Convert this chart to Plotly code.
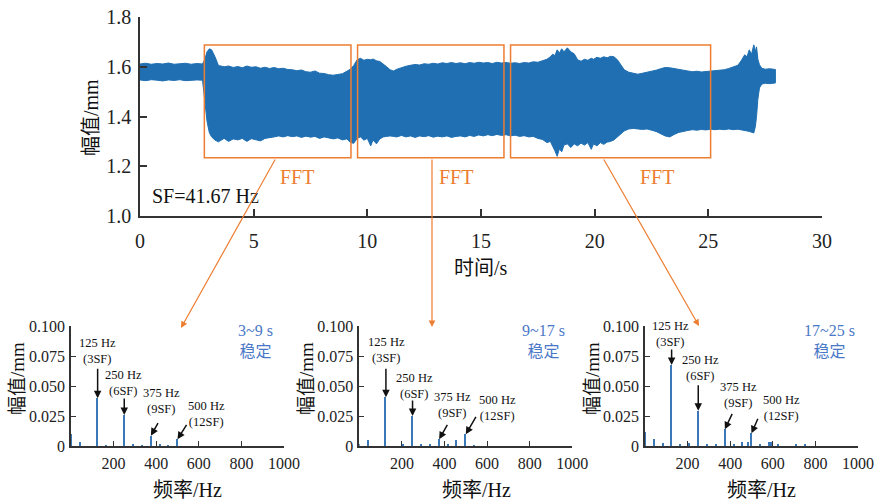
import plotly.graph_objects as go

W, H = 886, 502
SERIF = "Liberation Serif, Noto Sans CJK SC, serif"

# ---------------- time-domain envelope (upper / lower edge) ----------------
t_env = [0.0, 0.25, 0.5, 0.75, 1.0, 1.25, 1.5, 1.75, 2.0, 2.25, 2.5, 2.75,
         2.85, 2.95, 3.05, 3.15, 3.3, 3.45, 3.7, 3.9, 4.1, 4.3, 4.5, 4.7, 4.9, 5.1, 5.3, 5.5,
         5.7, 5.9, 6.1, 6.3, 6.5, 6.7, 6.9, 7.1, 7.3, 7.5, 7.7, 7.9, 8.1, 8.3, 8.5, 8.7, 8.9,
         9.1, 9.25, 9.4,
         9.55, 9.7, 9.85, 10.0, 10.15, 10.25, 10.4, 10.55, 10.7, 10.85, 11.0, 11.15, 11.3,
         11.5, 11.7, 11.9, 12.1, 12.3, 12.5, 12.7, 12.9, 13.1, 13.3, 13.5, 13.7, 13.9, 14.1,
         14.3, 14.5, 14.7, 14.9, 15.1, 15.3, 15.5, 15.7, 15.9, 16.1, 16.3, 16.5, 16.7, 16.9,
         17.1, 17.3, 17.5,
         17.7, 17.9, 18.05, 18.15, 18.25, 18.35, 18.45, 18.55, 18.65, 18.8, 18.95, 19.1,
         19.25, 19.4, 19.55, 19.7, 19.85, 19.95, 20.1, 20.25, 20.4, 20.55, 20.7, 20.85, 21.0,
         21.15, 21.3, 21.5, 21.7, 21.9, 22.1, 22.3, 22.5, 22.7, 22.9, 23.1, 23.3, 23.5, 23.7,
         23.9, 24.1, 24.3, 24.5, 24.7, 24.9, 25.1, 25.3, 25.5, 25.7, 25.9, 26.1, 26.3, 26.45,
         26.6, 26.7, 26.8, 26.9, 27.0, 27.07, 27.12, 27.18, 27.25, 27.35, 27.5, 27.7, 27.95]
upper_env = [1.611, 1.614, 1.610, 1.613, 1.611, 1.615, 1.610, 1.612, 1.614, 1.610, 1.613, 1.611,
             1.630, 1.660, 1.672, 1.668, 1.640, 1.605, 1.600, 1.603, 1.597, 1.601, 1.596, 1.603,
             1.598, 1.600, 1.594, 1.598, 1.593, 1.597, 1.592, 1.594, 1.589, 1.588, 1.584, 1.587,
             1.580, 1.578, 1.583, 1.574, 1.573, 1.568, 1.566, 1.569, 1.572, 1.582, 1.590, 1.605,
             1.628, 1.634, 1.626, 1.630, 1.628, 1.631, 1.624, 1.621, 1.612, 1.600, 1.588, 1.583,
             1.590, 1.597, 1.602, 1.606, 1.609, 1.607, 1.612, 1.610, 1.614, 1.611, 1.616, 1.613,
             1.617, 1.613, 1.616, 1.612, 1.617, 1.614, 1.618, 1.615, 1.617, 1.613, 1.618, 1.615,
             1.617, 1.614, 1.616, 1.613, 1.617, 1.615, 1.620, 1.618,
             1.624, 1.630, 1.640, 1.650, 1.645, 1.668, 1.655, 1.672, 1.660, 1.676, 1.660, 1.652,
             1.628, 1.622, 1.630, 1.626, 1.634, 1.630, 1.638, 1.634, 1.640, 1.636, 1.642, 1.640,
             1.628, 1.608, 1.588, 1.578, 1.574, 1.570, 1.574, 1.577, 1.581, 1.586, 1.592, 1.597,
             1.596, 1.592, 1.589, 1.586, 1.583, 1.580, 1.582, 1.579, 1.581, 1.580, 1.583, 1.586,
             1.588, 1.593, 1.598, 1.606, 1.625, 1.648, 1.640, 1.668, 1.650, 1.688, 1.662, 1.680,
             1.630, 1.608, 1.594, 1.590, 1.592, 1.589]
lower_env = [1.547, 1.544, 1.548, 1.546, 1.543, 1.547, 1.545, 1.548, 1.544, 1.546, 1.547, 1.546,
             1.470, 1.380, 1.335, 1.318, 1.305, 1.298, 1.312, 1.300, 1.310, 1.306, 1.312, 1.300,
             1.311, 1.308, 1.302, 1.312, 1.315, 1.318, 1.322, 1.318, 1.323, 1.319, 1.322, 1.316,
             1.321, 1.317, 1.320, 1.312, 1.318, 1.314, 1.310, 1.314, 1.306, 1.310, 1.296, 1.292,
             1.312, 1.318, 1.305, 1.312, 1.282, 1.306, 1.290, 1.310, 1.318, 1.320, 1.322, 1.320,
             1.318, 1.324, 1.318, 1.322, 1.316, 1.322, 1.319, 1.323, 1.317, 1.321, 1.318, 1.322,
             1.316, 1.320, 1.322, 1.318, 1.324, 1.320, 1.326, 1.322, 1.327, 1.323, 1.328, 1.324,
             1.327, 1.322, 1.325, 1.320, 1.323, 1.318, 1.320, 1.312,
             1.308, 1.295, 1.300, 1.278, 1.262, 1.240, 1.270, 1.258, 1.285, 1.290, 1.275, 1.290,
             1.282, 1.293, 1.285, 1.295, 1.268, 1.290, 1.282, 1.295, 1.288, 1.297, 1.300, 1.306,
             1.318, 1.330, 1.342, 1.350, 1.352, 1.350, 1.348, 1.350, 1.345, 1.340, 1.332, 1.322,
             1.318, 1.328, 1.336, 1.340, 1.344, 1.347, 1.345, 1.348, 1.346, 1.349, 1.347, 1.349,
             1.347, 1.350, 1.347, 1.349, 1.346, 1.344, 1.342, 1.340, 1.338, 1.334, 1.360, 1.400,
             1.470, 1.515, 1.530, 1.534, 1.532, 1.535]

# FFT windows (time ranges of boxes) and amplitude range of boxes
box_t0 = [2.83, 9.57, 16.30]
box_t1 = [9.28, 16.01, 25.10]
box_a0, box_a1 = 1.2345, 1.6874
box_labels = ["FFT", "FFT", "FFT"]
box_label_t = [6.89, 13.9, 22.74]

# ---------------- spectra ----------------
fft1_f = [0, 41.7, 125, 166.7, 250, 291.7, 333.3, 375, 416.7, 458.3, 500]
fft1_a = [0.010, 0.0036, 0.0397, 0.0008, 0.0258, 0.0010, 0.0008, 0.0086, 0.0018, 0.0008, 0.0056]
fft2_f = [0, 41.7, 125, 208.3, 250, 291.7, 333.3, 375, 416.7, 458.3, 500, 541.7]
fft2_a = [0.0015, 0.005, 0.0406, 0.001, 0.025, 0.001, 0.001, 0.0056, 0.0015, 0.005, 0.0097, 0.0008]
fft3_f = [0, 41.7, 83.3, 125, 166.7, 208.3, 250, 291.7, 333.3, 375, 416.7, 458.3, 483, 500,
          541.7, 583.3, 591, 625, 708.3, 750]
fft3_a = [0.0114, 0.0058, 0.0022, 0.0675, 0.001, 0.0028, 0.0294, 0.001, 0.001, 0.0139, 0.0015,
          0.0036, 0.0036, 0.0106, 0.0015, 0.0036, 0.0030, 0.002, 0.001, 0.001]
periods = ["3~9 s", "9~17 s", "17~25 s"]
state = "稳定"
peak_f = [125, 250, 375, 500]
peak_text = ["125 Hz<br>(3SF)", "250 Hz<br>(6SF)", "375 Hz<br>(9SF)", "500 Hz<br>(12SF)"]
peak_amp = [[0.0397, 0.0258, 0.0086, 0.0056],
            [0.0406, 0.025, 0.0056, 0.0097],
            [0.0675, 0.0294, 0.0139, 0.0106]]

main_xticks = [0, 5, 10, 15, 20, 25, 30]
main_yticks = [1.0, 1.2, 1.4, 1.6, 1.8]
sub_xticks = [200, 400, 600, 800, 1000]
sub_yticks = [0, 0.025, 0.05, 0.075, 0.1]
sub_yticktext = ["0", "0.025", "0.050", "0.075", "0.100"]

SIG = "#1f6fb2"
ORANGE = "#ed7d31"
BAR = "#3a78b8"
BLUE_TXT = "#4a78c8"
AX = "#333333"

fig = go.Figure()

# envelope polygon (upper edge forward, lower edge backward)
fig.add_trace(go.Scatter(x=t_env + t_env[::-1], y=upper_env + lower_env[::-1],
                         fill="toself", fillcolor=SIG, mode="lines",
                         line=dict(color=SIG, width=1), xaxis="x", yaxis="y",
                         hoverinfo="skip", showlegend=False))

for i, (f, a) in enumerate([(fft1_f, fft1_a), (fft2_f, fft2_a), (fft3_f, fft3_a)]):
    fig.add_trace(go.Bar(x=f, y=a, width=7, marker=dict(color=BAR, line=dict(width=0)),
                         xaxis=f"x{i+2}", yaxis=f"y{i+2}", showlegend=False))

px = lambda v: v / W
py = lambda v: 1 - v / H

tickfont_main = dict(family=SERIF, size=20, color="#222")
tickfont_sub = dict(family=SERIF, size=16, color="#222")

layout = dict(
    width=W, height=H, margin=dict(l=0, r=0, t=0, b=0, pad=0, autoexpand=False),
    paper_bgcolor="white", plot_bgcolor="white", showlegend=False, bargap=0,
    xaxis=dict(domain=[px(140), px(822)], range=[0, 30], tickvals=main_xticks,
               ticks="inside", ticklen=7, tickwidth=1.5, tickcolor=AX, showline=True,
               linecolor=AX, linewidth=1.5, showgrid=False, zeroline=False,
               tickfont=tickfont_main, anchor="y", ticklabelstandoff=6, automargin=False),
    yaxis=dict(domain=[py(216), py(17)], range=[1.0, 1.8], tickvals=main_yticks,
               tickformat=".1f", ticks="inside", ticklen=7, tickwidth=1.5, tickcolor=AX,
               showline=True, linecolor=AX, linewidth=1.5, showgrid=False, zeroline=False,
               tickfont=tickfont_main, anchor="x", ticklabelstandoff=3, automargin=False),
)
sub_x0 = [71, 359.3, 645]
for i in range(3):
    layout[f"xaxis{i+2}"] = dict(domain=[px(sub_x0[i]), px(sub_x0[i] + 213)], range=[0, 1000],
                                 tickvals=sub_xticks, ticks="inside", ticklen=5, tickwidth=1.2,
                                 tickcolor=AX, showline=True, linecolor=AX, linewidth=1.5,
                                 showgrid=False, zeroline=False, tickfont=tickfont_sub,
                                 anchor=f"y{i+2}", ticklabelstandoff=2, automargin=False)
    layout[f"yaxis{i+2}"] = dict(domain=[py(446), py(326)], range=[0, 0.1],
                                 tickvals=sub_yticks, ticktext=sub_yticktext, ticks="inside",
                                 ticklen=5, tickwidth=1.2, tickcolor=AX, showline=True,
                                 linecolor=AX, linewidth=1.5, showgrid=False, zeroline=False,
                                 tickfont=tickfont_sub, anchor=f"x{i+2}", ticklabelstandoff=1,
                                 automargin=False)
fig.update_layout(**layout)

C = dict(xanchor="center", yanchor="middle")
shapes = []
ann = []
for i in range(3):
    shapes.append(dict(type="rect", xref="x", yref="y", x0=box_t0[i], x1=box_t1[i],
                       y0=box_a0, y1=box_a1, line=dict(color=ORANGE, width=1.5)))
    ann.append(dict(xref="x", yref="y", x=box_label_t[i], y=1.158, text=box_labels[i],
                    showarrow=False, font=dict(family=SERIF, size=20, color=ORANGE), **C))
fig.update_layout(shapes=shapes)

ann.append(dict(xref="x", yref="y", x=0.44, y=1.08, text="SF=41.67 Hz", showarrow=False,
                xanchor="left", yanchor="middle",
                font=dict(family=SERIF, size=20, color="#111")))
# axis titles
ann.append(dict(xref="paper", yref="paper", x=px(481), y=py(268), text="时间/s",
                showarrow=False, font=dict(family=SERIF, size=20, color="#111"), **C))
ann.append(dict(xref="paper", yref="paper", x=px(91), y=py(118), text="幅值/mm",
                textangle=-90, showarrow=False, font=dict(family=SERIF, size=20, color="#111"),
                **C))
sub_ytitle_x = [17, 306, 592]
sub_xtitle_x = [187, 476, 761]
for i in range(3):
    ann.append(dict(xref="paper", yref="paper", x=px(sub_ytitle_x[i]), y=py(379), text="幅值/mm",
                    textangle=-90, showarrow=False,
                    font=dict(family=SERIF, size=19, color="#111"), **C))
    ann.append(dict(xref="paper", yref="paper", x=px(sub_xtitle_x[i]), y=py(490), text="频率/Hz",
                    showarrow=False, font=dict(family=SERIF, size=20, color="#111"), **C))

# connectors from boxes to spectra
conn = [((181, 328), (95, -170)), ((432, 327), (0, -169)), ((699, 326), (-96, -168))]
for (hx, hy), (ax_, ay_) in conn:
    ann.append(dict(xref="paper", yref="paper", x=px(hx), y=py(hy), ax=ax_, ay=ay_, text="",
                    showarrow=True, arrowhead=2, arrowsize=1.1, arrowwidth=1.2,
                    arrowcolor=ORANGE, standoff=0))

# period labels
period_x = [255, 543.5, 829]
for i in range(3):
    ann.append(dict(xref="paper", yref="paper", x=px(period_x[i]), y=py(340.5),
                    text=periods[i] + "<br>" + state, showarrow=False,
                    font=dict(family=SERIF, size=16, color=BLUE_TXT), **C))

# peak labels (centres in data coordinates) and arrows
label_pos = [
    [(126.6, 0.0792), (248.5, 0.0525), (426.6, 0.0375), (637.6, 0.0263)],
    [(127.5, 0.0796), (261.0, 0.0504), (439.0, 0.0342), (650.0, 0.0317)],
    [(122.0, 0.0933), (262.5, 0.0646), (440.7, 0.0425), (642.0, 0.0313)],
]
arrow_off = [
    [(0, -31), (0, -18), (8, -14), (10, -16)],
    [(0, -30), (0, -17), (9, -16), (11, -19)],
    [(0, -17), (0, -27), (8, -17), (7, -16)],
]
for i in range(3):
    xr, yr = f"x{i+2}", f"y{i+2}"
    for k in range(4):
        lx, ly = label_pos[i][k]
        ann.append(dict(xref=xr, yref=yr, x=lx, y=ly, text=peak_text[k], showarrow=False,
                        font=dict(family=SERIF, size=12.5, color="#111"), **C))
        ax_, ay_ = arrow_off[i][k]
        ann.append(dict(xref=xr, yref=yr, x=peak_f[k], y=peak_amp[i][k], ax=ax_, ay=ay_,
                        text="", showarrow=True, arrowhead=2, arrowsize=1, arrowwidth=1.5,
                        arrowcolor="#111", standoff=0))

fig.update_layout(annotations=ann)
fig.write_html("out.html")
